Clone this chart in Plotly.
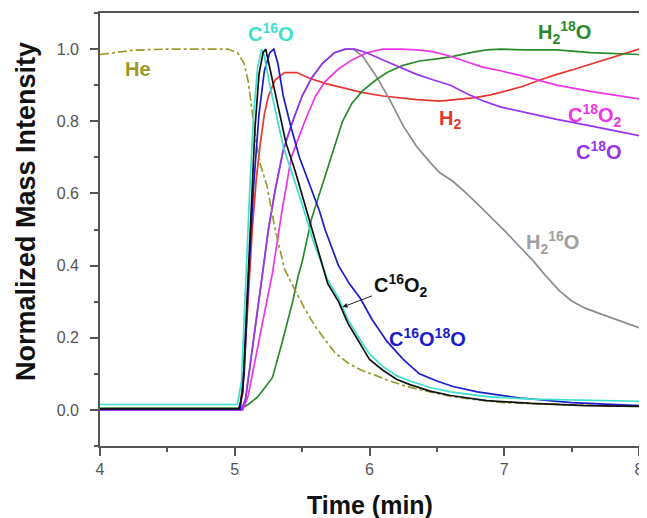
import plotly.graph_objects as go

# ---- data (time in min, normalized intensity) ----
he_t = [4.0, 4.25, 4.5, 4.95, 5.02, 5.07, 5.1, 5.13, 5.16, 5.19, 5.24, 5.3, 5.37, 5.45, 5.52, 5.6, 5.67, 5.74, 5.84, 5.94, 6.05, 6.13, 6.25, 6.37, 6.5, 6.62, 6.8, 7.0, 7.5, 8.0]
he_y = [0.985, 0.997, 1.0, 1.0, 0.99, 0.96, 0.91, 0.82, 0.74, 0.68, 0.62, 0.5, 0.39, 0.33, 0.28, 0.23, 0.195, 0.16, 0.13, 0.11, 0.095, 0.083, 0.068, 0.056, 0.046, 0.037, 0.028, 0.02, 0.014, 0.01]

h2_t = [4.0, 5.04, 5.07, 5.1, 5.13, 5.16, 5.19, 5.22, 5.25, 5.3, 5.37, 5.46, 5.55, 5.67, 5.8, 5.94, 6.1, 6.35, 6.52, 6.65, 6.77, 6.9, 7.02, 7.14, 7.27, 7.39, 7.52, 7.64, 7.76, 7.88, 8.0]
h2_y = [0.0, 0.0, 0.12, 0.32, 0.5, 0.64, 0.74, 0.82, 0.87, 0.915, 0.935, 0.935, 0.92, 0.905, 0.893, 0.88, 0.87, 0.86, 0.856, 0.86, 0.865, 0.873, 0.885, 0.897, 0.915, 0.93, 0.944, 0.958, 0.972, 0.986, 1.0]

h2o16_t = [4.0, 5.05, 5.08, 5.12, 5.16, 5.2, 5.25, 5.3, 5.36, 5.43, 5.5, 5.57, 5.65, 5.74, 5.82, 5.88, 5.95, 6.05, 6.15, 6.25, 6.35, 6.45, 6.52, 6.62, 6.72, 6.82, 6.92, 7.02, 7.12, 7.21, 7.3, 7.41, 7.5, 7.6, 7.73, 7.86, 8.0]
h2o16_y = [0.0, 0.0, 0.03, 0.14, 0.26, 0.37, 0.5, 0.61, 0.72, 0.8, 0.87, 0.92, 0.96, 0.99, 1.0, 1.0, 0.98, 0.925, 0.86, 0.787, 0.73, 0.686, 0.658, 0.633, 0.6, 0.564, 0.528, 0.49, 0.45, 0.415, 0.375, 0.33, 0.302, 0.282, 0.264, 0.247, 0.228]

h2o18_t = [4.0, 5.05, 5.1, 5.17, 5.22, 5.28, 5.35, 5.43, 5.47, 5.5, 5.57, 5.63, 5.72, 5.8, 5.87, 5.95, 6.05, 6.13, 6.25, 6.37, 6.5, 6.62, 6.75, 6.87, 6.97, 7.14, 7.39, 7.64, 8.0]
h2o18_y = [0.005, 0.005, 0.015, 0.036, 0.06, 0.09, 0.185, 0.3, 0.37, 0.41, 0.53, 0.6, 0.71, 0.8, 0.85, 0.885, 0.915, 0.935, 0.955, 0.967, 0.973, 0.98, 0.99, 0.998, 1.0, 0.998, 0.998, 0.99, 0.985]

c18o2_t = [4.0, 5.06, 5.1, 5.15, 5.2, 5.28, 5.35, 5.42, 5.52, 5.6, 5.67, 5.77, 5.87, 5.98, 6.1, 6.23, 6.35, 6.47, 6.6, 6.72, 6.84, 6.97, 7.14, 7.39, 7.64, 8.0]
c18o2_y = [0.0, 0.0, 0.04, 0.13, 0.23, 0.38, 0.55, 0.7, 0.8, 0.87, 0.91, 0.945, 0.97, 0.99, 1.0, 1.0, 0.998, 0.993, 0.98, 0.965, 0.95, 0.94, 0.925, 0.9, 0.883, 0.862]

c18o_t = [4.0, 5.05, 5.08, 5.12, 5.16, 5.2, 5.25, 5.3, 5.36, 5.43, 5.5, 5.57, 5.65, 5.74, 5.82, 5.89, 5.98, 6.1, 6.23, 6.35, 6.47, 6.6, 6.72, 6.84, 6.97, 7.14, 7.39, 7.64, 7.85, 8.0]
c18o_y = [0.0, 0.0, 0.03, 0.14, 0.26, 0.37, 0.5, 0.61, 0.72, 0.8, 0.87, 0.92, 0.96, 0.99, 1.0, 1.0, 0.99, 0.97, 0.95, 0.93, 0.915, 0.9, 0.877, 0.857, 0.84, 0.825, 0.805, 0.787, 0.772, 0.76]

c16o18o_t = [4.0, 5.04, 5.07, 5.1, 5.14, 5.18, 5.22, 5.26, 5.29, 5.32, 5.36, 5.42, 5.48, 5.51, 5.58, 5.63, 5.67, 5.72, 5.77, 5.85, 5.93, 6.02, 6.13, 6.25, 6.37, 6.5, 6.62, 6.8, 7.12, 7.5, 8.0]
c16o18o_y = [0.003, 0.003, 0.1, 0.35, 0.62, 0.82, 0.94, 0.99, 1.0, 0.96, 0.87, 0.78, 0.7, 0.67, 0.6, 0.55, 0.5, 0.45, 0.4, 0.35, 0.31, 0.25, 0.19, 0.14, 0.10, 0.08, 0.065, 0.05, 0.033, 0.02, 0.012]

c16o2_t = [4.0, 5.03, 5.06, 5.09, 5.12, 5.15, 5.18, 5.21, 5.23, 5.27, 5.32, 5.38, 5.45, 5.52, 5.6, 5.65, 5.69, 5.77, 5.84, 5.92, 6.0, 6.1, 6.2, 6.3, 6.45, 6.6, 6.87, 7.2, 7.6, 8.0]
c16o2_y = [0.003, 0.003, 0.05, 0.3, 0.55, 0.78, 0.93, 0.99, 1.0, 0.93, 0.84, 0.74, 0.66, 0.57, 0.46, 0.4, 0.35, 0.3, 0.24, 0.19, 0.14, 0.11, 0.085, 0.07, 0.052, 0.04, 0.026, 0.018, 0.012, 0.01]

c16o_t = [4.0, 5.02, 5.05, 5.08, 5.11, 5.14, 5.17, 5.2, 5.22, 5.26, 5.31, 5.36, 5.43, 5.5, 5.58, 5.64, 5.69, 5.77, 5.84, 5.92, 6.0, 6.1, 6.2, 6.3, 6.45, 6.6, 6.87, 7.2, 7.6, 8.0]
c16o_y = [0.015, 0.015, 0.08, 0.35, 0.6, 0.82, 0.95, 1.0, 0.98, 0.9, 0.81, 0.73, 0.65, 0.57, 0.47, 0.41, 0.36, 0.31, 0.25, 0.2, 0.155, 0.12, 0.095, 0.08, 0.062, 0.05, 0.037, 0.03, 0.027, 0.024]

x_ticks = [4, 5, 6, 7, 8]
y_ticks = [0.0, 0.2, 0.4, 0.6, 0.8, 1.0]
y_ticklabels = ["0.0", "0.2", "0.4", "0.6", "0.8", "1.0"]

series = [
    ("H2", h2_t, h2_y, "#e8352e", "solid"),
    ("H2 16O", h2o16_t, h2o16_y, "#8c8c8c", "solid"),
    ("H2 18O", h2o18_t, h2o18_y, "#2a8a2a", "solid"),
    ("C18O2", c18o2_t, c18o2_y, "#ee35e6", "solid"),
    ("C18O", c18o_t, c18o_y, "#9933ee", "solid"),
    ("He", he_t, he_y, "#9a9a2a", "dashdot"),
    ("C16O18O", c16o18o_t, c16o18o_y, "#1c1ccc", "solid"),
    ("C16O", c16o_t, c16o_y, "#3de0cc", "solid"),
    ("C16O2", c16o2_t, c16o2_y, "#111111", "solid"),
]

fig = go.Figure()
for name, t, y, col, dash in series:
    fig.add_trace(go.Scatter(x=t, y=y, mode="lines", name=name,
                             line=dict(color=col, width=1.7, dash=dash)))

FONT = "Liberation Sans, Arial, sans-serif"
LS = 20
labels = [
    ("<b>C<sup>16</sup>O</b>", 5.27, 1.045, "#3de0cc"),
    ("<b>He</b>", 4.28, 0.944, "#9a9a2a"),
    ("<b>H<sub>2</sub><sup>18</sup>O</b>", 7.45, 1.045, "#2a8a2a"),
    ("<b>H<sub>2</sub></b>", 6.6, 0.805, "#e8352e"),
    ("<b>C<sup>18</sup>O<sub>2</sub></b>", 7.67, 0.815, "#ee35e6"),
    ("<b>C<sup>18</sup>O</b>", 7.70, 0.72, "#9933ee"),
    ("<b>H<sub>2</sub><sup>16</sup>O</b>", 7.36, 0.465, "#a0a0a0"),
    ("<b>C<sup>16</sup>O<sup>18</sup>O</b>", 6.43, 0.2, "#1c1ccc"),
]
for txt, x, y, col in labels:
    fig.add_annotation(x=x, y=y, text=txt, showarrow=False,
                       font=dict(family=FONT, size=LS, color=col))

fig.add_annotation(x=5.80, y=0.285, text="<b>C<sup>16</sup>O<sub>2</sub></b>",
                   showarrow=True, arrowhead=2, arrowsize=1, arrowwidth=1,
                   arrowcolor="#222222", ax=58, ay=-22,
                   font=dict(family=FONT, size=LS, color="#111111"))

# axis titles as annotations (placed like the reference)
fig.add_annotation(xref="paper", yref="paper", x=-0.1373, y=0.5427,
                   xanchor="center", yanchor="middle",
                   text="<b>Normalized Mass Intensity</b>", textangle=-90,
                   showarrow=False, font=dict(family=FONT, size=27, color="#111111"))
fig.add_annotation(xref="paper", yref="paper", x=0.501, y=-0.1363,
                   xanchor="center", yanchor="middle",
                   text="<b>Time (min)</b>",
                   showarrow=False, font=dict(family=FONT, size=25, color="#111111"))

axis_common = dict(showline=True, linecolor="#555555", linewidth=1.6, mirror=True,
                   ticks="outside", ticklen=8, tickwidth=1.6, tickcolor="#555555",
                   showgrid=False, zeroline=False, ticklabeloverflow="allow",
                   tickfont=dict(family=FONT, size=16, color="#555555"))

fig.update_xaxes(range=[4, 8], tickvals=x_ticks,
                 minor=dict(ticks="outside", ticklen=4, dtick=0.5, tickcolor="#555555", tickwidth=1.6),
                 ticklabelstandoff=0,
                 **axis_common)
fig.update_yaxes(range=[-0.1, 1.1], tickvals=y_ticks, ticktext=y_ticklabels,
                 minor=dict(ticks="outside", ticklen=4, dtick=0.1, tick0=0, tickcolor="#555555", tickwidth=1.6),
                 ticklabelstandoff=8,
                 **axis_common)

# page body adds an 8px offset, so the figure is 8px smaller with margins shifted
fig.update_layout(width=639, height=510, margin=dict(l=92, r=8, t=5, b=72, autoexpand=False),
                  plot_bgcolor="white", paper_bgcolor="white", showlegend=False)

fig.write_html("out.html")
